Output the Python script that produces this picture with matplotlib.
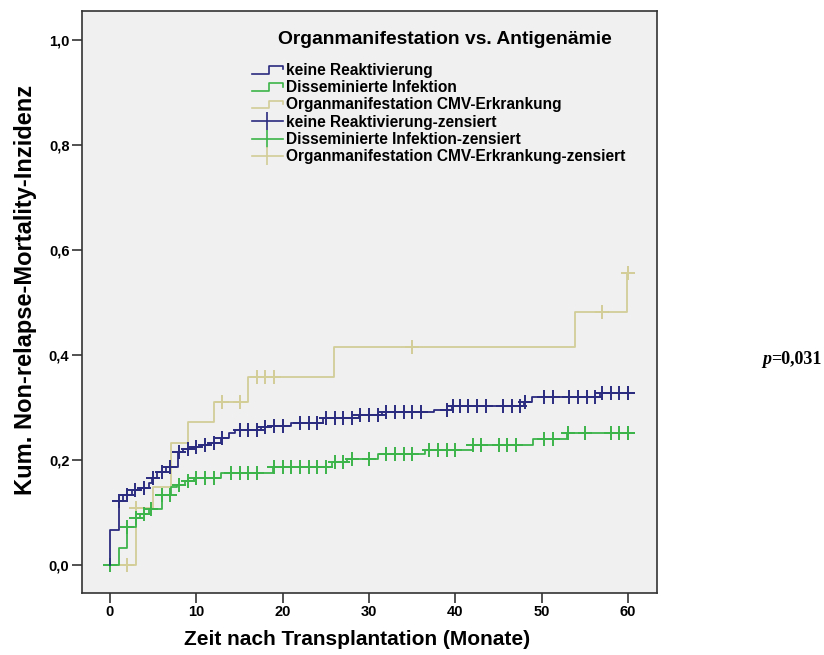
import numpy as np
import matplotlib
matplotlib.use("Agg")
import matplotlib.pyplot as plt
from matplotlib.lines import Line2D
from matplotlib.legend_handler import HandlerBase

plt.rcParams['font.family'] = ['Liberation Sans', 'DejaVu Sans']

# step curves: time of each jump and the level after it
blue_times = [0, 0.05, 1.0, 1.5, 2.5, 3.5, 4.5, 4.9, 5.5, 6.5, 7.9, 8.5, 9.5,
              10.5, 11.5, 12.8, 13.8, 14.5, 17.5, 18.5, 21.0, 24.7, 28.8,
              31.5, 37.5, 39.6, 47.9, 48.9, 56.8, 60]
blue_levels = [0, 0.067, 0.122, 0.133, 0.142, 0.146, 0.157, 0.165, 0.178,
               0.187, 0.216, 0.220, 0.225, 0.229, 0.232, 0.241, 0.251, 0.258,
               0.262, 0.265, 0.270, 0.280, 0.286, 0.291, 0.295, 0.303, 0.311,
               0.319, 0.327, 0.327]
blue_cens = [1, 2, 2.9, 3.9, 5, 6, 7, 8, 9, 10, 11, 12, 13, 15, 16, 17, 18,
             19, 20, 22, 23, 24, 25, 26, 27, 28, 29, 30, 31, 32, 33, 34, 35,
             36, 39, 39.7, 40.5, 41.5, 42.5, 43.5, 45.5, 46.5, 47.5, 48.1,
             50.3, 51.3, 53.2, 54.2, 55.2, 56.2, 57, 58, 59, 60, 60]

green_times = [0, 1.05, 2.0, 3.0, 3.5, 4.5, 6.0, 7.05, 7.8, 8.7, 9.7, 12.9,
               18.9, 25.7, 27.4, 31.0, 36.5, 42.0, 49.0, 52.9, 60]
green_levels = [0, 0.032, 0.073, 0.089, 0.098, 0.106, 0.133, 0.149, 0.153,
                0.160, 0.165, 0.175, 0.187, 0.197, 0.202, 0.211, 0.219,
                0.229, 0.240, 0.252, 0.252]
green_cens = [0, 2, 3, 3.9, 4.8, 6, 7, 8, 9, 10, 11, 12, 14, 15, 16, 17, 19,
              20, 21, 22, 23, 24, 25, 26, 27, 28, 30, 32, 33, 34, 35, 37, 38,
              39, 40, 42, 43, 45, 46, 47, 50.3, 51.3, 53, 55, 58, 59, 60, 60]

yellow_times = [0, 3.0, 5.0, 7.1, 9.0, 12.05, 16.0, 25.9, 53.9, 59.9, 60]
yellow_levels = [0, 0.108, 0.149, 0.232, 0.272, 0.311, 0.358, 0.416, 0.481,
                 0.556, 0.556]
yellow_cens = [2, 3, 13, 15, 17, 18, 19, 35, 57, 60]

names = ['keine Reaktivierung', 'Disseminierte Infektion',
         'Organmanifestation CMV-Erkrankung']
colors = ['#2b2b80', '#3cb44a', '#d3cd98']


def level_at(times, levels, t):
    idx = np.searchsorted(times, t, side='right') - 1
    return np.asarray(levels)[idx]


class StepHandler(HandlerBase):
    # little step shape like in the SPSS legend
    def create_artists(self, legend, orig_handle, xdescent, ydescent,
                       width, height, fontsize, trans):
        w, h = width, height
        xs = [-xdescent, -xdescent + 0.55 * w, -xdescent + 0.55 * w,
              -xdescent + w, -xdescent + w]
        ys = [-ydescent + 0.1 * h, -ydescent + 0.1 * h, -ydescent + 0.8 * h,
              -ydescent + 0.8 * h, -ydescent + 0.5 * h]
        line = Line2D(xs, ys, color=orig_handle.get_color(), lw=1.2)
        line.set_transform(trans)
        return [line]


fig = plt.figure(figsize=(8.24, 6.55), dpi=100)
ax = fig.add_axes([0.0995, 0.0947, 0.698, 0.8885])
ax.set_facecolor('#f0f0f0')

curves = [(blue_times, blue_levels, blue_cens),
          (green_times, green_levels, green_cens),
          (yellow_times, yellow_levels, yellow_cens)]

step_handles = []
cens_handles = []
# draw yellow first so blue and green sit on top
for i in [2, 1, 0]:
    times, levels, cens = curves[i]
    ax.step(times, levels, where='post', color=colors[i], lw=1.3)
    ax.plot(cens, level_at(times, levels, cens), ls='none', marker='+',
            ms=10, mew=1.4, color=colors[i])
for i in range(3):
    step_handles.append(Line2D([], [], color=colors[i]))
    cens_handles.append(Line2D([], [], color=colors[i], lw=1.2, marker='|',
                               ms=13, mew=1.2))

ax.set_xlim(-3.24, 63.36)
ax.set_ylim(-0.0533, 1.055)
ax.set_xticks(range(0, 61, 10))
ax.set_yticks([0, 0.2, 0.4, 0.6, 0.8, 1.0])
ax.set_yticklabels(['0,0', '0,2', '0,4', '0,6', '0,8', '1,0'])
ax.tick_params(direction='out', length=7, width=1.2, color='#333333',
               labelsize=10.5, pad=2)
for lab in ax.get_xticklabels() + ax.get_yticklabels():
    lab.set_fontweight('bold')
for sp in ax.spines.values():
    sp.set_color('#333333')
    sp.set_linewidth(1.2)

ax.set_xlabel('Zeit nach Transplantation (Monate)', fontsize=15,
              fontweight='bold')
ax.set_ylabel('Kum. Non-relapse-Mortality-Inzidenz', fontsize=17,
              fontweight='bold')
ax.xaxis.set_label_coords(0.478, -0.064)
ax.yaxis.set_label_coords(-0.078, 0.52)

# legend title drawn on its own so the rows can be placed freely
fig.text(445 / 824, 1 - 40 / 655, 'Organmanifestation vs. Antigenämie',
         ha='center', va='center', fontsize=13.9, fontweight='bold')

handles = step_handles + cens_handles
labels = names + [n + '-zensiert' for n in names]
hmap = {h: StepHandler() for h in step_handles}
leg = ax.legend(handles, labels, handler_map=hmap, loc='upper left',
                bbox_to_anchor=(0.271, 0.935), frameon=False,
                prop={'weight': 'bold', 'size': 11.2}, handlelength=2.0,
                handletextpad=0.2, labelspacing=0.15, numpoints=1)

t1 = fig.text(0.925, 0.445, 'p', fontsize=13, fontweight='bold',
              style='italic', family='Liberation Serif')
ax.annotate('=0,031', xy=(1, 0), xycoords=t1, va='bottom', ha='left',
            fontsize=13, fontweight='bold', family='Liberation Serif',
            annotation_clip=False)

fig.savefig('out.png', dpi=100)
